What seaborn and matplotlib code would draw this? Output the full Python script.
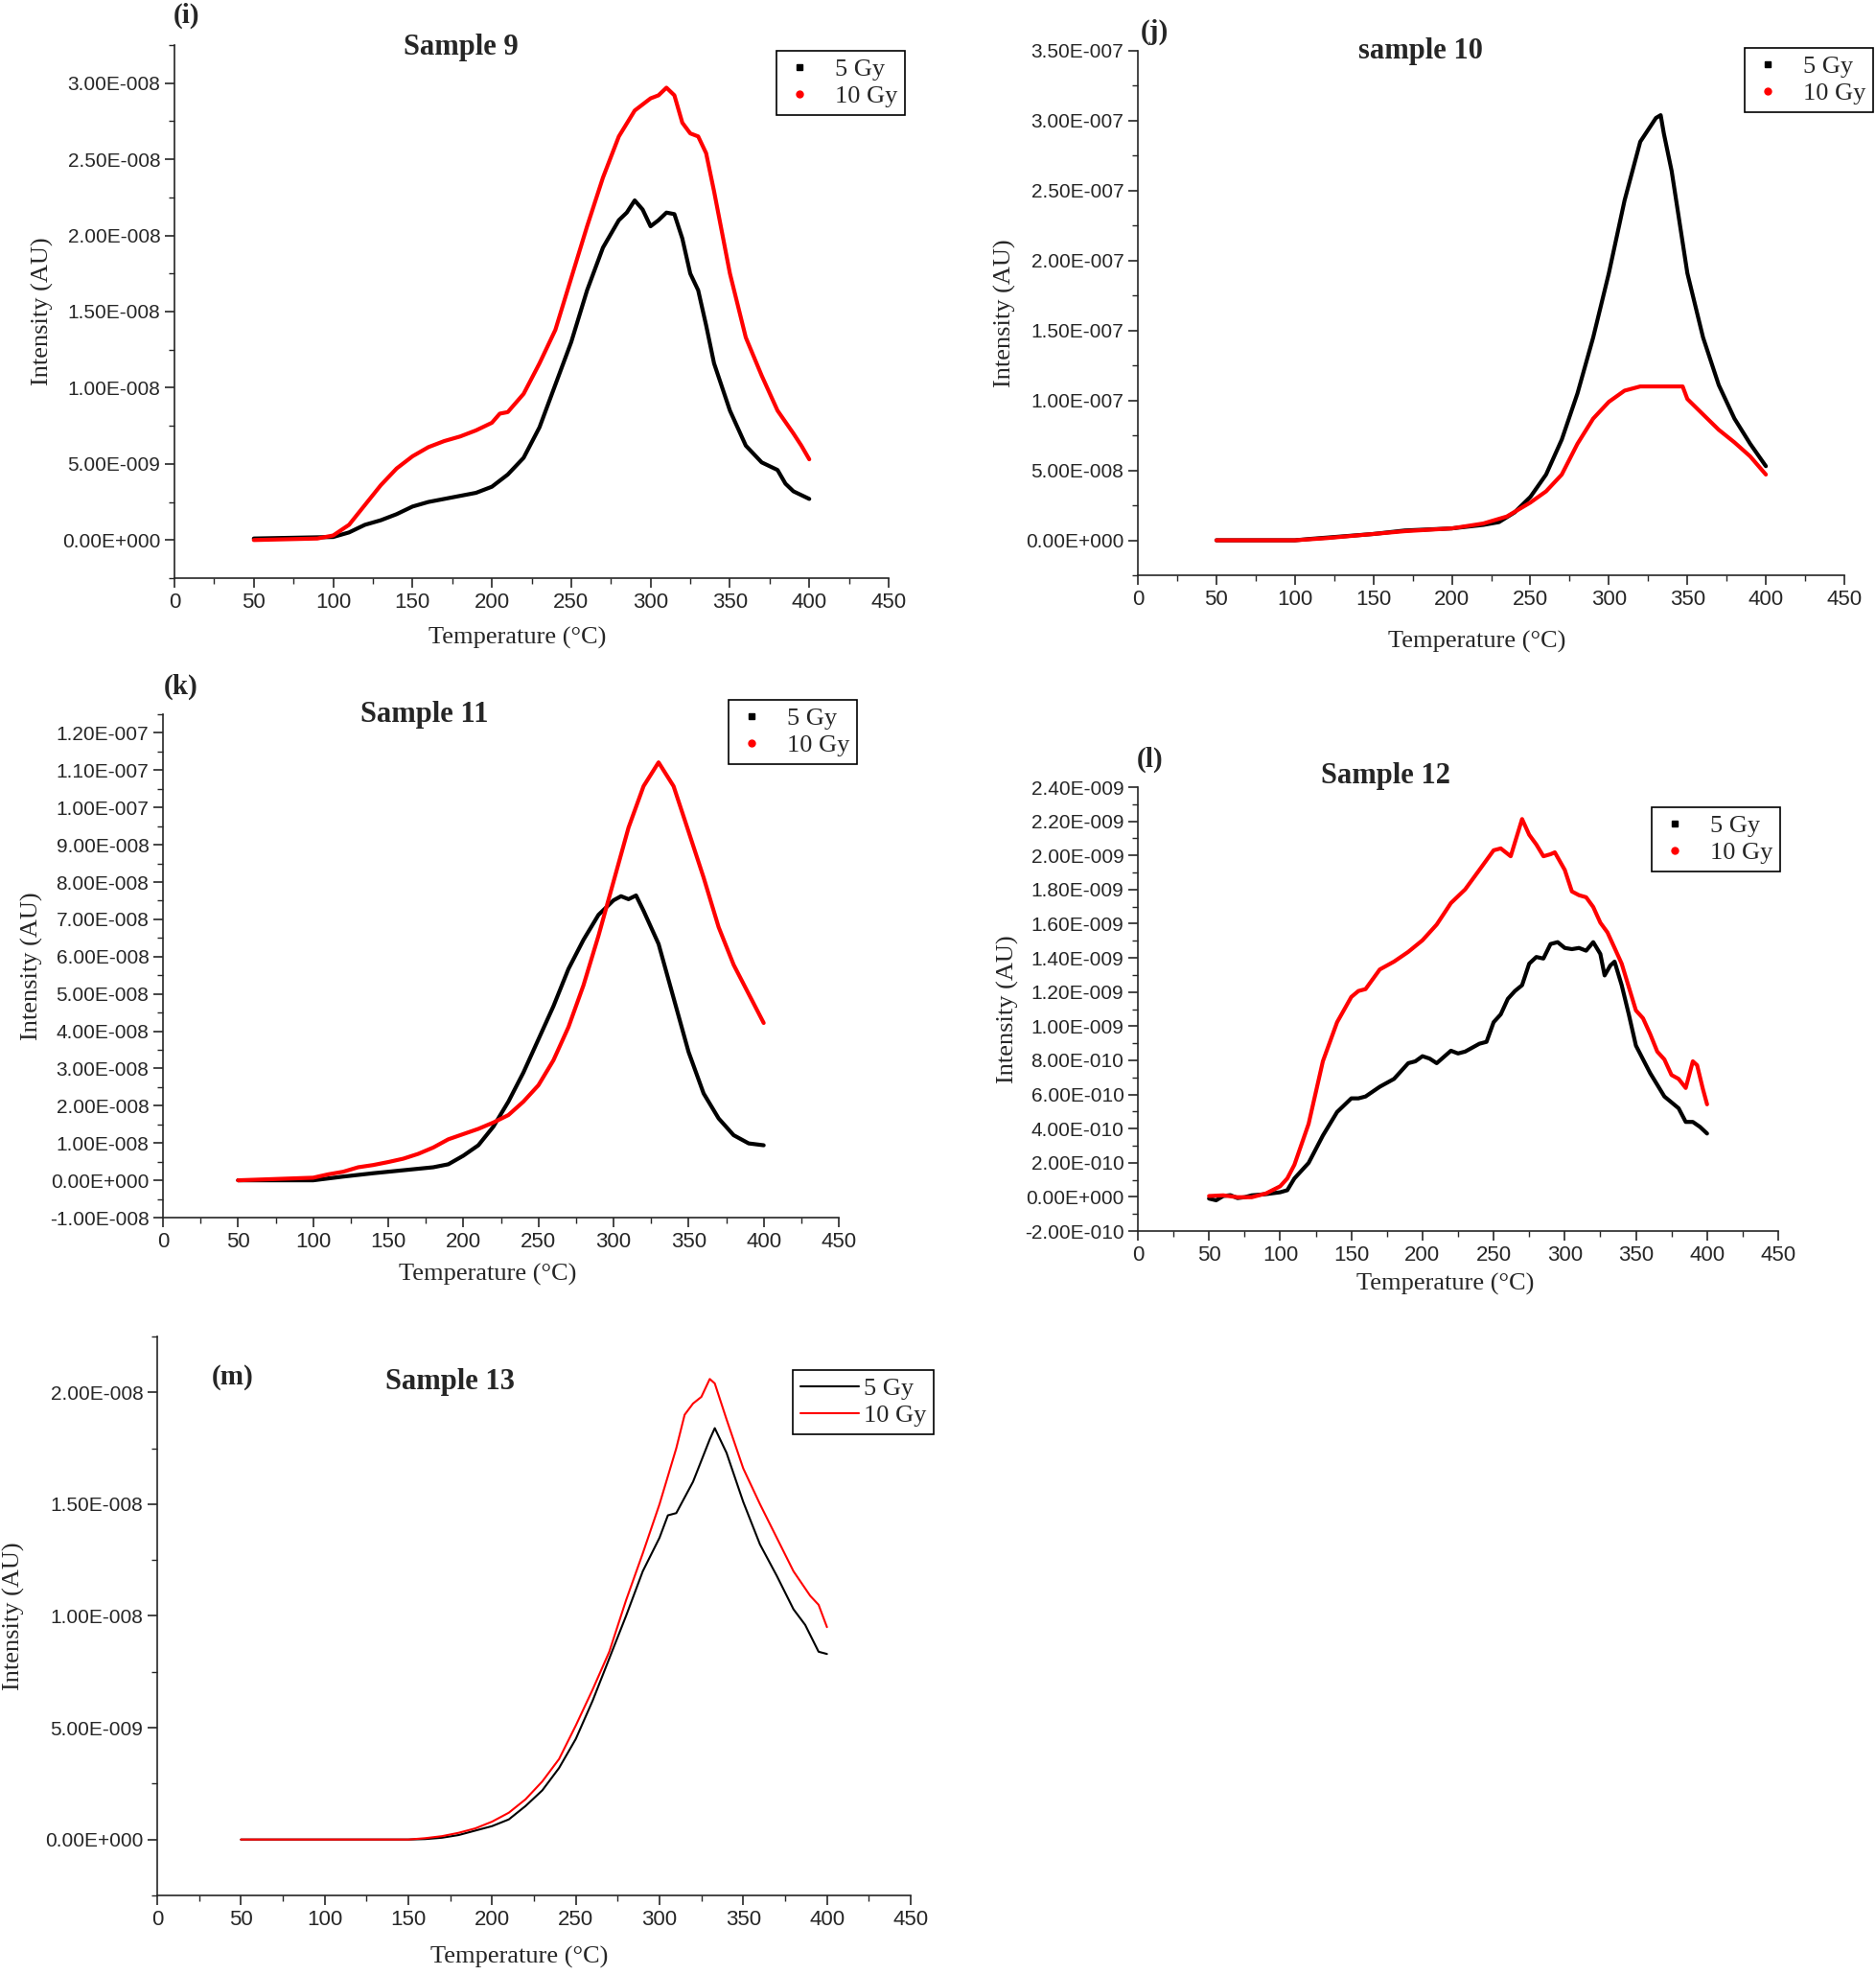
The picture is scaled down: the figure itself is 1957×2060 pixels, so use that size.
import numpy as np
import pandas as pd
import matplotlib
matplotlib.use('Agg')
import matplotlib.pyplot as plt
import seaborn as sns
from matplotlib.ticker import MultipleLocator, FuncFormatter
from matplotlib.lines import Line2D

# ---- data (temperature in °C, intensity in AU) ----
# Sample 9 (values x 1e-8)
s9_t_5 = [50, 100, 110, 120, 130, 140, 150, 160, 170, 180, 190, 200, 210, 220, 230, 240, 250, 260, 270,
          280, 285, 290, 295, 300, 305, 310, 315, 320, 325, 330, 335, 340, 350, 360, 370, 380, 385, 390, 400]
s9_i_5 = [0.01, 0.02, 0.05, 0.10, 0.13, 0.17, 0.22, 0.25, 0.27, 0.29, 0.31, 0.35, 0.43, 0.54, 0.74, 1.02, 1.30,
          1.64, 1.92, 2.10, 2.15, 2.23, 2.17, 2.06, 2.10, 2.15, 2.14, 1.98, 1.75, 1.64, 1.41, 1.16, 0.85, 0.62,
          0.51, 0.46, 0.37, 0.32, 0.27]
s9_t_10 = [50, 90, 100, 110, 120, 130, 140, 150, 160, 170, 180, 190, 200, 205, 210, 220, 230, 240, 250, 260,
           270, 280, 290, 300, 305, 310, 315, 320, 325, 330, 335, 340, 350, 360, 370, 380, 390, 395, 400]
s9_i_10 = [0.0, 0.01, 0.03, 0.10, 0.23, 0.36, 0.47, 0.55, 0.61, 0.65, 0.68, 0.72, 0.77, 0.83, 0.84, 0.96, 1.16,
           1.38, 1.72, 2.06, 2.38, 2.65, 2.82, 2.90, 2.92, 2.97, 2.92, 2.74, 2.67, 2.65, 2.54, 2.29, 1.75, 1.33,
           1.08, 0.85, 0.70, 0.62, 0.53]

# Sample 10 (values x 1e-7)
s10_t_5 = [50, 100, 110, 150, 170, 200, 220, 230, 240, 250, 260, 270, 280, 290, 300, 310, 320, 330, 333,
           335, 340, 350, 360, 370, 380, 390, 400]
s10_i_5 = [0.0, 0.0, 0.01, 0.045, 0.07, 0.085, 0.11, 0.13, 0.20, 0.31, 0.47, 0.72, 1.05, 1.45, 1.91, 2.43, 2.85,
           3.02, 3.04, 2.91, 2.64, 1.91, 1.45, 1.11, 0.87, 0.69, 0.53]
s10_t_10 = [50, 100, 120, 150, 170, 200, 220, 235, 250, 260, 270, 280, 290, 300, 310, 320, 330, 340, 347,
            350, 360, 370, 380, 390, 400]
s10_i_10 = [0.0, 0.0, 0.015, 0.045, 0.065, 0.085, 0.12, 0.17, 0.27, 0.35, 0.47, 0.69, 0.87, 0.99, 1.07, 1.10,
            1.10, 1.10, 1.10, 1.01, 0.90, 0.79, 0.70, 0.60, 0.47]

# Sample 11 (values x 1e-8)
s11_t_5 = [50, 100, 120, 140, 160, 180, 190, 200, 210, 220, 230, 240, 250, 260, 270, 280, 290, 300, 305, 310,
           315, 320, 330, 340, 350, 360, 370, 380, 390, 400]
s11_i_5 = [0.0, 0.0, 0.10, 0.19, 0.27, 0.35, 0.43, 0.66, 0.94, 1.44, 2.11, 2.89, 3.78, 4.67, 5.67, 6.45, 7.12,
           7.51, 7.62, 7.54, 7.64, 7.23, 6.34, 4.89, 3.44, 2.33, 1.66, 1.21, 0.99, 0.94]
s11_t_10 = [50, 100, 110, 120, 130, 140, 150, 160, 170, 180, 190, 200, 210, 220, 230, 240, 250, 260, 270, 280,
            290, 300, 310, 320, 330, 340, 350, 360, 370, 380, 390, 400]
s11_i_10 = [0.0, 0.07, 0.16, 0.23, 0.35, 0.41, 0.49, 0.58, 0.71, 0.88, 1.10, 1.24, 1.38, 1.55, 1.75, 2.11, 2.55,
            3.22, 4.11, 5.23, 6.56, 8.01, 9.46, 10.57, 11.21, 10.57, 9.35, 8.12, 6.79, 5.78, 5.00, 4.22]

# Sample 12 (values x 1e-10)
s12_t_5 = [50, 55, 60, 65, 70, 75, 80, 90, 100, 105, 110, 120, 130, 140, 150, 155, 160, 170, 180, 190, 195,
           200, 205, 210, 220, 225, 230, 240, 245, 250, 255, 260, 265, 270, 275, 280, 285, 290, 295, 300, 305,
           310, 315, 320, 325, 328, 332, 335, 340, 345, 350, 360, 370, 380, 385, 390, 395, 400]
s12_i_5 = [-0.1, -0.2, 0.05, 0.1, -0.07, -0.02, 0.09, 0.16, 0.27, 0.39, 1.08, 1.99, 3.59, 4.97, 5.77, 5.77, 5.88,
           6.45, 6.91, 7.83, 7.94, 8.24, 8.10, 7.83, 8.56, 8.40, 8.51, 8.97, 9.08, 10.23, 10.69, 11.60, 12.06,
           12.40, 13.66, 14.05, 13.96, 14.81, 14.92, 14.58, 14.51, 14.58, 14.42, 14.92, 14.23, 12.97, 13.55,
           13.78, 12.40, 10.69, 8.86, 7.25, 5.88, 5.19, 4.39, 4.39, 4.10, 3.71]
s12_t_10 = [50, 60, 70, 80, 90, 100, 105, 110, 120, 130, 140, 150, 155, 160, 170, 180, 190, 200, 210, 220, 230,
            240, 250, 255, 262, 270, 275, 280, 285, 290, 293, 300, 305, 310, 315, 320, 325, 330, 335, 340, 345,
            350, 355, 360, 365, 370, 375, 380, 385, 390, 393, 397, 400]
s12_i_10 = [0.05, 0.09, -0.02, -0.02, 0.2, 0.62, 1.08, 1.88, 4.28, 7.94, 10.23, 11.71, 12.06, 12.17, 13.32,
            13.78, 14.35, 15.03, 15.95, 17.21, 18.01, 19.15, 20.30, 20.41, 19.95, 22.13, 21.21, 20.64, 19.95,
            20.07, 20.18, 19.15, 17.89, 17.67, 17.55, 16.98, 16.06, 15.49, 14.58, 13.66, 12.29, 10.92, 10.46,
            9.54, 8.51, 8.05, 7.14, 6.91, 6.38, 7.94, 7.71, 6.34, 5.42]

# Sample 13 (values x 1e-8)
s13_t_5 = [50, 100, 150, 160, 170, 180, 190, 200, 210, 220, 230, 240, 250, 260, 270, 280, 290, 300, 305, 310,
           320, 330, 333, 340, 350, 360, 370, 380, 387, 395, 400]
s13_i_5 = [0.0, 0.0, 0.0, 0.002, 0.008, 0.02, 0.04, 0.06, 0.09, 0.15, 0.22, 0.32, 0.45, 0.62, 0.81, 1.00, 1.20,
           1.35, 1.45, 1.46, 1.60, 1.79, 1.84, 1.73, 1.51, 1.32, 1.18, 1.03, 0.96, 0.84, 0.83]
s13_t_10 = [50, 100, 150, 160, 170, 180, 190, 200, 210, 220, 230, 240, 250, 260, 270, 280, 290, 300, 310, 315,
            320, 325, 330, 333, 340, 350, 360, 370, 380, 390, 395, 400]
s13_i_10 = [0.0, 0.0, 0.0, 0.006, 0.015, 0.03, 0.05, 0.08, 0.12, 0.18, 0.26, 0.36, 0.51, 0.67, 0.84, 1.07, 1.28,
            1.50, 1.75, 1.90, 1.95, 1.98, 2.06, 2.04, 1.88, 1.66, 1.50, 1.35, 1.20, 1.09, 1.05, 0.95]

doses = ['5 Gy', '10 Gy']
dose_colors = {'5 Gy': 'black', '10 Gy': 'red'}


def make_df(t5, i5, t10, i10, unit):
    a = pd.DataFrame({'T': t5, 'I': np.array(i5) * unit, 'dose': '5 Gy'})
    b = pd.DataFrame({'T': t10, 'I': np.array(i10) * unit, 'dose': '10 Gy'})
    return pd.concat([a, b], ignore_index=True)


def sci_fmt(v, pos):
    if abs(v) < 1e-14:
        v = 0.0
    mant, ex = f"{v:.2E}".split('E')
    return f"{mant}E{int(ex):+04d}"


sns.set_style('ticks')
plt.rcParams['font.family'] = ['Liberation Serif', 'DejaVu Serif']
plt.rcParams['axes.linewidth'] = 1.2

W, H = 1957, 2060
fig = plt.figure(figsize=(W / 100, H / 100), dpi=100)

# panel settings: box = (left, right, bottom, top) in pixels
panels = [
    dict(df=make_df(s9_t_5, s9_i_5, s9_t_10, s9_i_10, 1e-8), box=(182, 927, 603, 47),
         ylim=(-2.5e-9, 3.25e-8), major=5e-9, minor=2.5e-9, title='Sample 9', tpos=(481, 50),
         tag='(i)', tagpos=(181, 16), leg=(810, 53), ylx=-0.169, xly=-0.092, style='dots'),
    dict(df=make_df(s10_t_5, s10_i_5, s10_t_10, s10_i_10, 1e-7), box=(1187, 1924, 600, 53),
         ylim=(-2.5e-8, 3.5e-7), major=5e-8, minor=2.5e-8, title='sample 10', tpos=(1482, 53),
         tag='(j)', tagpos=(1190, 33), leg=(1820, 50), ylx=-0.172, xly=-0.106, style='dots'),
    dict(df=make_df(s11_t_5, s11_i_5, s11_t_10, s11_i_10, 1e-8), box=(170, 875, 1270, 745),
         ylim=(-1e-8, 1.25e-7), major=1e-8, minor=5e-9, title='Sample 11', tpos=(443, 746),
         tag='(k)', tagpos=(171, 716), leg=(760, 730), ylx=-0.178, xly=-0.0915, style='dots'),
    dict(df=make_df(s12_t_5, s12_i_5, s12_t_10, s12_i_10, 1e-10), box=(1187, 1855, 1284, 821),
         ylim=(-2e-10, 2.4e-9), major=2e-10, minor=1e-10, title='Sample 12', tpos=(1445, 810),
         tag='(l)', tagpos=(1186, 792), leg=(1723, 842), ylx=-0.186, xly=-0.095, style='dots'),
    dict(df=make_df(s13_t_5, s13_i_5, s13_t_10, s13_i_10, 1e-8), box=(164, 950, 1977, 1394),
         ylim=(-2.5e-9, 2.25e-8), major=5e-9, minor=2.5e-9, title='Sample 13', tpos=(469, 1442),
         tag='(m)', tagpos=(221, 1436), leg=(827, 1429), ylx=-0.176, xly=-0.091, style='line'),
]

tick_font = ['Liberation Sans Narrow', 'Liberation Sans']

for p in panels:
    l, r, b, t = p['box']
    ax = fig.add_axes([l / W, 1 - b / H, (r - l) / W, (b - t) / H])
    lw = 3.0 if p['style'] == 'dots' else 1.5
    sns.lineplot(data=p['df'], x='T', y='I', hue='dose', hue_order=doses, palette=dose_colors,
                 estimator=None, sort=False, linewidth=lw, legend=False, ax=ax)
    ax.set_xlim(0, 450)
    ax.set_ylim(*p['ylim'])
    ax.xaxis.set_major_locator(MultipleLocator(50))
    ax.xaxis.set_minor_locator(MultipleLocator(25))
    ax.yaxis.set_major_locator(MultipleLocator(p['major']))
    ax.yaxis.set_minor_locator(MultipleLocator(p['minor']))
    ax.yaxis.set_major_formatter(FuncFormatter(sci_fmt))
    ax.tick_params(which='major', direction='out', length=7, width=1.2, labelsize=15)
    ax.tick_params(which='minor', direction='out', length=4, width=1.0)
    ax.tick_params(axis='x', labelsize=16)
    for lab in ax.get_xticklabels() + ax.get_yticklabels():
        lab.set_family(tick_font)
    sns.despine(ax=ax)
    ax.set_xlabel('Temperature (°C)', fontsize=19)
    ax.set_ylabel('Intensity (AU)', fontsize=19)
    ax.yaxis.set_label_coords(p['ylx'], 0.5)
    ax.xaxis.set_label_coords(0.48, p['xly'])

    fig.text(p['tpos'][0] / W, 1 - p['tpos'][1] / H, p['title'], fontsize=22, fontweight='bold',
             ha='center', va='center')
    fig.text(p['tagpos'][0] / W, 1 - p['tagpos'][1] / H, p['tag'], fontsize=21, fontweight='bold',
             ha='left', va='center')

    if p['style'] == 'dots':
        handles = [Line2D([], [], linestyle='none', marker='s', markersize=5, color='black'),
                   Line2D([], [], linestyle='none', marker='o', markersize=5, color='red')]
        hl, pad = 1.2, 0.8
    else:
        handles = [Line2D([], [], color='black', linewidth=1.5),
                   Line2D([], [], color='red', linewidth=1.5)]
        hl, pad = 2.3, 0.2
    leg = ax.legend(handles, doses, loc='upper left',
                    bbox_to_anchor=(p['leg'][0] / W, 1 - p['leg'][1] / H),
                    bbox_transform=fig.transFigure, frameon=True, fancybox=False,
                    edgecolor='black', framealpha=1, fontsize=19, handlelength=hl,
                    handletextpad=pad, borderpad=0.3, labelspacing=0.15, borderaxespad=0)
    leg.get_frame().set_linewidth(1.2)

fig.savefig('out.png', dpi=100)
